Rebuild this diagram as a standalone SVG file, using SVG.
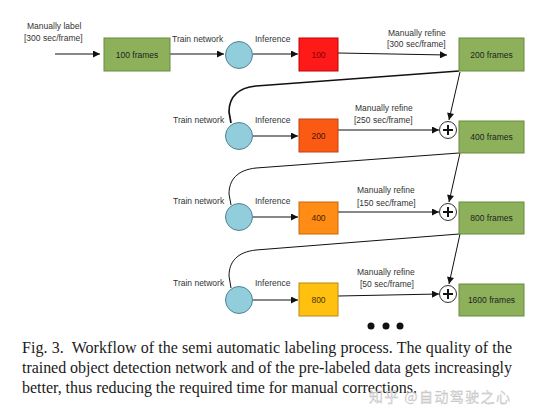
<svg xmlns="http://www.w3.org/2000/svg" width="534" height="418" viewBox="0 0 534 418">
<defs>
<marker id="ah" viewBox="0 0 10 10" refX="10" refY="5" markerWidth="8" markerHeight="7" markerUnits="userSpaceOnUse" orient="auto">
<path d="M0,0 L10,5 L0,10 z" fill="#111"/>
</marker>
<style>
.lbl{font-family:"Liberation Sans",Arial,sans-serif;font-size:8.5px;fill:#333;}
.bt{font-family:"Liberation Sans",Arial,sans-serif;font-size:8.5px;fill:#222;text-anchor:middle;}
.green{fill:#8db15a;stroke:#6b8a3e;stroke-width:1;}
.circ{fill:#92cddc;stroke:#4f8296;stroke-width:1;}
.plus{fill:#fff;stroke:#333;stroke-width:1;}
.pl{stroke:#111;stroke-width:2;}
.c{fill:none;stroke:#111;stroke-width:1;}
.cap{font-family:"Liberation Serif","Times New Roman",serif;font-size:16px;fill:#1a1a1a;white-space:pre;}
</style>
</defs>
<rect width="534" height="418" fill="#fff"/>

<g id="connectors">
<line class="c" x1="55" y1="54" x2="100" y2="54" marker-end="url(#ah)"/>
<line class="c" x1="170" y1="54" x2="224" y2="54" marker-end="url(#ah)"/>
<line class="c" x1="253" y1="54" x2="298" y2="54" marker-end="url(#ah)"/>
<line class="c" x1="338" y1="53" x2="447" y2="55" marker-end="url(#ah)"/>

<path class="c" style="stroke-width:1.7" d="M459,71 L256,86 C237,88 229,98 229,112 L231,123"/>
<line class="c" x1="460" y1="72" x2="449" y2="120" marker-end="url(#ah)"/>
<line class="c" x1="253" y1="136" x2="298" y2="136" marker-end="url(#ah)"/>
<line class="c" x1="338" y1="130" x2="439" y2="130" marker-end="url(#ah)"/>

<path class="c" d="M459,153 L256,168 C237,170 229,180 229,194 L231,205"/>
<line class="c" x1="460" y1="153" x2="449" y2="202" marker-end="url(#ah)"/>
<line class="c" x1="253" y1="217" x2="298" y2="217" marker-end="url(#ah)"/>
<line class="c" x1="338" y1="212" x2="439" y2="212" marker-end="url(#ah)"/>

<path class="c" d="M459,234 L256,250 C237,252 229,262 229,276 L231,288"/>
<line class="c" x1="460" y1="234" x2="449" y2="284" marker-end="url(#ah)"/>
<line class="c" x1="253" y1="300" x2="298" y2="300" marker-end="url(#ah)"/>
<line class="c" x1="338" y1="296" x2="439" y2="294" marker-end="url(#ah)"/>
</g>

<g id="labels">
<text class="lbl" x="27" y="29">Manually label</text>
<text class="lbl" x="24" y="41">[300 sec/frame]</text>
<text class="lbl" x="172" y="42">Train network</text>
<text class="lbl" x="255" y="42">Inference</text>
<text class="lbl" x="388" y="36">Manually refine</text>
<text class="lbl" x="387" y="47">[300 sec/frame]</text>

<text class="lbl" x="173" y="123">Train network</text>
<text class="lbl" x="255" y="123">Inference</text>
<text class="lbl" x="355" y="111">Manually refine</text>
<text class="lbl" x="354" y="123">[250 sec/frame]</text>

<text class="lbl" x="173" y="204">Train network</text>
<text class="lbl" x="255" y="204">Inference</text>
<text class="lbl" x="357" y="193">Manually refine</text>
<text class="lbl" x="357" y="206">[150 sec/frame]</text>

<text class="lbl" x="173" y="286">Train network</text>
<text class="lbl" x="255" y="286">Inference</text>
<text class="lbl" x="357" y="275">Manually refine</text>
<text class="lbl" x="360" y="287">[50 sec/frame]</text>
</g>

<g id="n100frames"><rect class="green" x="104" y="38" width="66" height="33"/><text class="bt" x="137" y="58">100 frames</text></g>
<g id="train1"><circle class="circ" cx="239" cy="55" r="13.5"/></g>
<g id="inf100"><rect x="299" y="38" width="39" height="33" fill="#ff1a1a" stroke="#c00000"/><text class="bt" x="318.5" y="58" style="fill:#8a0000">100</text></g>
<g id="n200frames"><rect class="green" x="459" y="38" width="65" height="33"/><text class="bt" x="491.5" y="58">200 frames</text></g>

<g id="train2"><circle class="circ" cx="239" cy="136" r="13.5"/></g>
<g id="inf200"><rect x="299" y="119" width="39" height="33" fill="#fa5a14" stroke="#c0440c"/><text class="bt" x="318.5" y="139" style="fill:#4a1500">200</text></g>
<g id="plus1"><circle class="plus" cx="448" cy="130" r="8.5"/><line class="pl" x1="443" y1="130" x2="453" y2="130"/><line class="pl" x1="448" y1="125" x2="448" y2="135"/></g>
<g id="n400frames"><rect class="green" x="459" y="121" width="65" height="32"/><text class="bt" x="491.5" y="140">400 frames</text></g>

<g id="train3"><circle class="circ" cx="239" cy="217" r="13.5"/></g>
<g id="inf400"><rect x="299" y="202" width="39" height="32" fill="#ff8c14" stroke="#c4680e"/><text class="bt" x="318.5" y="221" style="fill:#4a2200">400</text></g>
<g id="plus2"><circle class="plus" cx="448" cy="212" r="8.5"/><line class="pl" x1="443" y1="212" x2="453" y2="212"/><line class="pl" x1="448" y1="207" x2="448" y2="217"/></g>
<g id="n800frames"><rect class="green" x="459" y="202" width="65" height="32"/><text class="bt" x="491.5" y="221">800 frames</text></g>

<g id="train4"><circle class="circ" cx="239" cy="300" r="13.5"/></g>
<g id="inf800"><rect x="299" y="283" width="39" height="33" fill="#ffc010" stroke="#b88a14"/><text class="bt" x="318.5" y="303" style="fill:#4a3300">800</text></g>
<g id="plus3"><circle class="plus" cx="448" cy="294" r="8.5"/><line class="pl" x1="443" y1="294" x2="453" y2="294"/><line class="pl" x1="448" y1="289" x2="448" y2="299"/></g>
<g id="n1600frames"><rect class="green" x="459" y="284" width="65" height="32"/><text class="bt" x="491.5" y="303">1600 frames</text></g>

<g id="dots" fill="#111">
<circle cx="371" cy="326" r="3.5"/>
<circle cx="386" cy="326" r="3.5"/>
<circle cx="400" cy="326" r="3.5"/>
</g>

<g id="caption">
<text class="cap" x="22" y="353" textLength="490" lengthAdjust="spacing">Fig. 3.  Workflow of the semi automatic labeling process. The quality of the</text>
<text class="cap" x="22" y="373" textLength="490" lengthAdjust="spacing">trained object detection network and of the pre-labeled data gets increasingly</text>
<text class="cap" x="22" y="393" textLength="395" lengthAdjust="spacing">better, thus reducing the required time for manual corrections.</text>
</g>
<text x="369" y="402" font-family="'Noto Sans CJK SC',sans-serif" font-size="14" fill="#d8d8d8" fill-opacity="0.85" stroke="#bbb" stroke-width="0.3" textLength="141" lengthAdjust="spacing">知乎 @自动驾驶之心</text>
</svg>
